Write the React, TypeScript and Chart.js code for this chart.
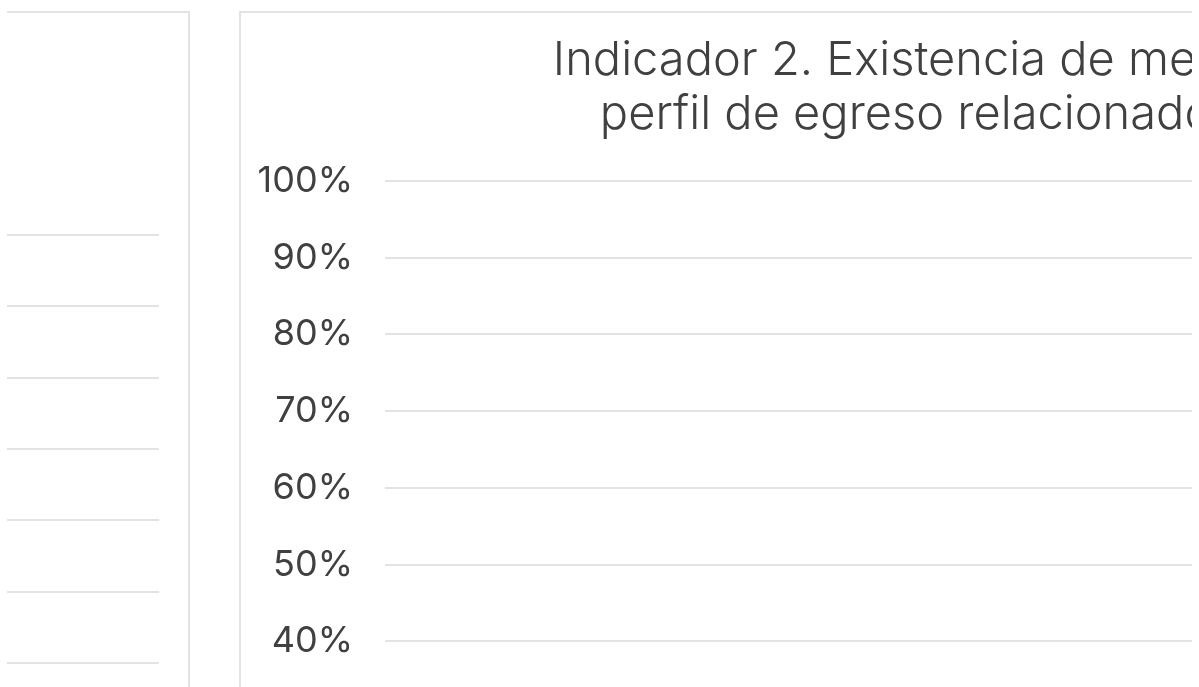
import React, { useEffect, useRef } from "react";
import { Chart, registerables } from "chart.js";

Chart.register(...registerables);

// ---- data ----
const titleLines: string[] = [
  "Indicador 2. Existencia de mecanismos para evaluar el",
  "perfil de egreso relacionados con el sector laboral",
];
const categories: string[] = [];
const seriesValues: number[] = [];
const leftCategories: string[] = [];
const leftValues: number[] = [];
const yMin = 0;
const yMax = 1;
const yStep = 0.1;

// ---- style ----
const FONT = "Inter, 'Noto Sans', 'DejaVu Sans', sans-serif";
const GRID = "#e3e3e3";
const BORDER = "#e3e3e3";
const TEXT = "#404040";

const pct = (v: number | string) => `${Math.round(Number(v) * 100)}%`;

export default function App() {
  const leftRef = useRef<HTMLCanvasElement | null>(null);
  const rightRef = useRef<HTMLCanvasElement | null>(null);

  useEffect(() => {
    if (!leftRef.current || !rightRef.current) return;

    const left = new Chart(leftRef.current, {
      type: "bar",
      data: {
        labels: leftCategories,
        datasets: [{ label: "Indicador 1", data: leftValues, backgroundColor: "#7f7f7f" }],
      },
      options: {
        responsive: false,
        animation: false,
        layout: { padding: { top: 222, right: 29, left: 0, bottom: 0 } },
        plugins: { legend: { display: false }, tooltip: { enabled: false }, title: { display: false } },
        scales: {
          x: { display: false },
          y: {
            min: yMin,
            max: yMax,
            ticks: { display: false, stepSize: yStep },
            grid: { color: GRID, lineWidth: 2, drawTicks: false },
            border: { display: false },
          },
        },
      },
    });

    const right = new Chart(rightRef.current, {
      type: "bar",
      data: {
        labels: categories,
        datasets: [{ label: "Indicador 2", data: seriesValues, backgroundColor: "#7f7f7f" }],
      },
      options: {
        responsive: false,
        animation: false,
        layout: { padding: 0 },
        plugins: {
          legend: { display: false },
          tooltip: { enabled: false },
          title: {
            display: true,
            text: titleLines,
            color: TEXT,
            font: { family: FONT, size: 47, weight: "300", lineHeight: 1.149 },
            padding: { top: 21, bottom: 39 },
          },
        },
        scales: {
          x: { display: false },
          y: {
            min: yMin,
            max: yMax,
            afterFit: (scale: any) => {
              scale.width = 144;
            },
            ticks: {
              stepSize: yStep,
              color: TEXT,
              padding: 32,
              font: { family: FONT, size: 36, weight: "400" },
              callback: (v: any) => pct(v),
            },
            grid: { color: GRID, lineWidth: 2, drawTicks: false },
            border: { display: false },
          },
        },
      },
    });

    return () => {
      left.destroy();
      right.destroy();
    };
  }, []);

  return (
    <div
      style={{
        position: "fixed",
        left: 7,
        top: 0,
        width: 1185,
        height: 687,
        overflow: "hidden",
        background: "#fff",
      }}
    >
      <div
        style={{
          position: "absolute",
          left: -300,
          top: 11,
          width: 483,
          height: 1100,
          boxSizing: "border-box",
          border: `2px solid ${BORDER}`,
        }}
      >
        <canvas
          ref={leftRef}
          width={479}
          height={935}
          style={{ position: "absolute", left: 0, top: 0, width: 479, height: 935 }}
        />
      </div>
      <div
        style={{
          position: "absolute",
          left: 232,
          top: 11,
          width: 2000,
          height: 1100,
          boxSizing: "border-box",
          border: `2px solid ${BORDER}`,
        }}
      >
        <canvas
          ref={rightRef}
          width={1810}
          height={989}
          style={{ position: "absolute", left: 0, top: 0, width: 1810, height: 989 }}
        />
      </div>
    </div>
  );
}
